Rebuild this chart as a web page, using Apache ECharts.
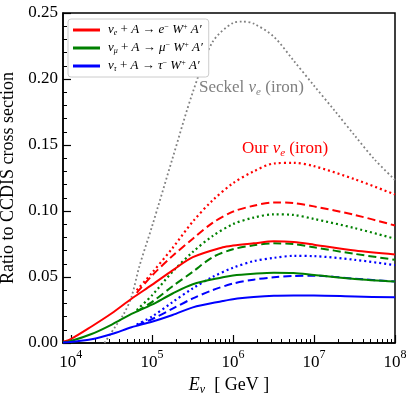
<!DOCTYPE html>
<html>
<head>
<meta charset="utf-8">
<script src="https://cdn.jsdelivr.net/npm/echarts@6/dist/echarts.min.js"></script>
<style>
  html, body { margin: 0; padding: 0; background: #fff; }
  #main { width: 415px; height: 399px; }
</style>
</head>
<body>
<div id="main"></div>
<script>
// energies in GeV
var eFull = [8e3, 1e4, 1.8e4, 3.2e4, 5.6e4, 1e5, 1.8e5, 3.2e5, 7.5e5, 1e6, 1.8e6, 3.2e6, 5.6e6, 1e7, 3.2e7, 1e8];
var ePart = [6.5e4, 1e5, 1.8e5, 3.2e5, 5.6e5, 1e6, 1.8e6, 3.2e6, 5.6e6, 1e7, 3.2e7, 1e8];
var eSeckel = [2.6e4, 3.5e4, 4.5e4, 5.6e4, 7e4, 1e5, 1.8e5, 3.2e5, 5.6e5, 1e6, 1.3e6, 1.8e6, 3.2e6, 5.6e6, 1e7, 1.8e7, 3.2e7, 5.6e7, 1e8];

// solid curves (on eFull)
var eSolid   = [0.001, 0.003, 0.0125, 0.0225, 0.0335, 0.044, 0.055, 0.065, 0.0725, 0.0738, 0.0755, 0.077, 0.0765, 0.0745, 0.070, 0.067];
var muSolid  = [0.0005, 0.0015, 0.0068, 0.014, 0.022, 0.029, 0.0375, 0.0445, 0.0498, 0.0512, 0.0525, 0.0533, 0.053, 0.0515, 0.0485, 0.0465];
var tauSolid = [0.0003, 0.0008, 0.0028, 0.0068, 0.0119, 0.0161, 0.0212, 0.027, 0.0318, 0.0332, 0.0348, 0.0358, 0.036, 0.036, 0.0352, 0.0346];

// dashed and dotted curves (on ePart)
var eDashed   = [0.038, 0.051, 0.066, 0.079, 0.091, 0.0995, 0.104, 0.1065, 0.106, 0.1035, 0.097, 0.089];
var eDotted   = [0.040, 0.053, 0.072, 0.092, 0.108, 0.121, 0.130, 0.136, 0.1365, 0.134, 0.124, 0.1125];
var muDashed  = [0.024, 0.031, 0.043, 0.054, 0.065, 0.071, 0.074, 0.0755, 0.075, 0.0725, 0.0675, 0.063];
var muDotted  = [0.025, 0.036, 0.054, 0.069, 0.081, 0.090, 0.095, 0.0975, 0.097, 0.094, 0.087, 0.079];
var tauDashed = [0.0135, 0.018, 0.026, 0.0338, 0.040, 0.045, 0.048, 0.0498, 0.0508, 0.051, 0.0487, 0.0465];
var tauDotted = [0.014, 0.020, 0.031, 0.0414, 0.050, 0.057, 0.062, 0.0645, 0.066, 0.0658, 0.063, 0.059];

// Seckel nu_e (iron)
var seckel = [0, 0.012, 0.022, 0.035, 0.058, 0.088, 0.14, 0.19, 0.228, 0.2425, 0.2435, 0.242, 0.232, 0.214, 0.195, 0.176, 0.157, 0.139, 0.1235];

var majorX = [1e4, 1e5, 1e6, 1e7, 1e8];
var minorX = [];
for (var k = 4; k < 8; k++) {
  for (var m = 2; m <= 9; m++) minorX.push(m * Math.pow(10, k));
}

var RED = '#ff0000', GREEN = '#008000', BLUE = '#0000ff', GRAY = '#808080';
var FONT = 'Liberation Serif';

function pairs(xs, ys) {
  return xs.map(function (x, i) { return [x, ys[i]]; });
}

function line(name, xs, ys, color, type) {
  var dash = type === 'dashed' ? [8, 4] : (type === 'dotted' ? [2, 3] : 'solid');
  return {
    name: name,
    type: 'line',
    data: pairs(xs, ys),
    showSymbol: false,
    smooth: 0.3,
    silent: true,
    lineStyle: { color: color, width: type === 'dotted' ? 2.2 : 2, type: dash },
    itemStyle: { color: color }
  };
}

var legendNames = ['ne', 'nmu', 'ntau'];
var legendText = {
  ne:   '{i|ν}{sub|e}{r| + }{i|A}{r| → }{i|e}{sup|−}{i| W}{sup|+}{i| A′}',
  nmu:  '{i|ν}{sub|μ}{r| + }{i|A}{r| → }{i|μ}{sup|−}{i| W}{sup|+}{i| A′}',
  ntau: '{i|ν}{sub|τ}{r| + }{i|A}{r| → }{i|τ}{sup|−}{i| W}{sup|+}{i| A′}'
};

var myChart = echarts.init(document.getElementById('main'));

var option = {
  animation: false,
  grid: {
    left: 63, right: 20, top: 13, bottom: 56,
    outerBoundsMode: 'none',
    containLabel: false,
    show: true, borderColor: '#000', borderWidth: 1.5
  },
  legend: {
    orient: 'vertical',
    left: 68, top: 19,
    data: legendNames.map(function (n) { return { name: n, icon: 'rect' }; }),
    itemWidth: 27, itemHeight: 3, itemGap: 4,
    backgroundColor: '#fff',
    borderColor: '#ccc', borderWidth: 1, borderRadius: 3,
    padding: [4, 6, 4, 5],
    selectedMode: false,
    formatter: function (n) { return legendText[n]; },
    textStyle: {
      padding: [0, 0, 0, 3],
      rich: {
        i:   { fontFamily: FONT, fontStyle: 'italic', fontSize: 13, color: '#000', lineHeight: 14 },
        r:   { fontFamily: FONT, fontSize: 13, color: '#000', lineHeight: 14 },
        sub: { fontFamily: FONT, fontStyle: 'italic', fontSize: 8, color: '#000', lineHeight: 8, verticalAlign: 'bottom' },
        sup: { fontFamily: FONT, fontSize: 8, color: '#000', lineHeight: 8, verticalAlign: 'top' }
      }
    }
  },
  xAxis: [{
    type: 'log',
    logBase: 10,
    min: 8000, max: 1e8,
    name: '{i|E}{sub|ν}{r|  [ GeV ]}',
    nameLocation: 'middle',
    nameGap: 28,
    nameTextStyle: {
      rich: {
        i:   { fontFamily: FONT, fontStyle: 'italic', fontSize: 18, color: '#000', lineHeight: 22 },
        r:   { fontFamily: FONT, fontSize: 18, color: '#000', lineHeight: 22 },
        sub: { fontFamily: FONT, fontStyle: 'italic', fontSize: 12, color: '#000', lineHeight: 14, verticalAlign: 'bottom' }
      }
    },
    axisLine: { lineStyle: { color: '#000', width: 1.5 } },
    axisTick: { inside: true, length: 8, customValues: majorX, lineStyle: { color: '#000', width: 1.2 } },
    axisLabel: {
      customValues: majorX,
      margin: 6,
      formatter: function (v) {
        return '{b|10}{s|' + Math.round(Math.log10(v)) + '}';
      },
      rich: {
        b: { fontFamily: FONT, fontSize: 17, color: '#000', lineHeight: 22, verticalAlign: 'bottom' },
        s: { fontFamily: FONT, fontSize: 12, color: '#000', lineHeight: 12, verticalAlign: 'top' }
      }
    },
    splitLine: { show: false }
  }, {
    type: 'log',
    logBase: 10,
    min: 8000, max: 1e8,
    position: 'bottom',
    axisLine: { show: false },
    axisTick: { inside: true, length: 4, customValues: minorX, lineStyle: { color: '#000', width: 1 } },
    axisLabel: { show: false },
    splitLine: { show: false }
  }],
  yAxis: {
    type: 'value',
    min: 0, max: 0.25, interval: 0.05,
    name: 'Ratio to CCDIS cross section',
    nameLocation: 'middle',
    nameGap: 43,
    nameTextStyle: { fontFamily: FONT, fontSize: 18, color: '#000' },
    axisLine: { show: true, lineStyle: { color: '#000', width: 1.5 } },
    axisTick: { show: true, inside: true, length: 8, lineStyle: { color: '#000', width: 1.2 } },
    minorTick: { show: true, splitNumber: 5, length: 4, lineStyle: { color: '#000', width: 1 } },
    axisLabel: {
      fontFamily: FONT, fontSize: 17, color: '#000', margin: 5,
      formatter: function (v) { return v.toFixed(2); }
    },
    splitLine: { show: false }
  },
  graphic: [{
    type: 'text',
    left: 199, top: 79,
    silent: true,
    style: {
      text: '{r|Seckel }{i|ν}{sub|e}{r| (iron)}',
      rich: {
        r:   { fontFamily: FONT, fontSize: 17, fill: GRAY, lineHeight: 20 },
        i:   { fontFamily: FONT, fontStyle: 'italic', fontSize: 17, fill: GRAY, lineHeight: 20 },
        sub: { fontFamily: FONT, fontStyle: 'italic', fontSize: 11, fill: GRAY, lineHeight: 13, verticalAlign: 'bottom' }
      }
    }
  }, {
    type: 'text',
    left: 242, top: 140,
    silent: true,
    style: {
      text: '{r|Our }{i|ν}{sub|e}{r| (iron)}',
      rich: {
        r:   { fontFamily: FONT, fontSize: 17, fill: RED, lineHeight: 20 },
        i:   { fontFamily: FONT, fontStyle: 'italic', fontSize: 17, fill: RED, lineHeight: 20 },
        sub: { fontFamily: FONT, fontStyle: 'italic', fontSize: 11, fill: RED, lineHeight: 13, verticalAlign: 'bottom' }
      }
    }
  }],
  series: [
    line('seckel', eSeckel, seckel, GRAY, 'dotted'),
    line('ne-dot', ePart, eDotted, RED, 'dotted'),
    line('ne-dash', ePart, eDashed, RED, 'dashed'),
    line('nmu-dot', ePart, muDotted, GREEN, 'dotted'),
    line('nmu-dash', ePart, muDashed, GREEN, 'dashed'),
    line('ntau-dot', ePart, tauDotted, BLUE, 'dotted'),
    line('ntau-dash', ePart, tauDashed, BLUE, 'dashed'),
    line('ne', eFull, eSolid, RED, 'solid'),
    line('nmu', eFull, muSolid, GREEN, 'solid'),
    line('ntau', eFull, tauSolid, BLUE, 'solid')
  ]
};
option.series[0].lineStyle.width = 1.8;
option.series[0].lineStyle.type = [1.8, 2.6];

myChart.setOption(option);
</script>
</body>
</html>
